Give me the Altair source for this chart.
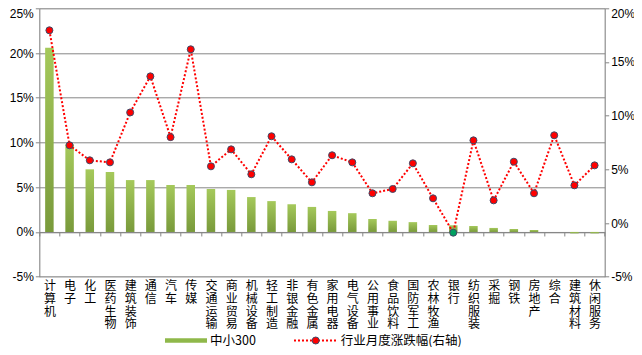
import altair as alt
import pandas as pd

categories = ["计算机", "电子", "化工", "医药生物", "建筑装饰", "通信", "汽车", "传媒",
              "交通运输", "商业贸易", "机械设备", "轻工制造", "非银金融", "有色金属",
              "家用电器", "电气设备", "公用事业", "食品饮料", "国防军工", "农林牧渔",
              "银行", "纺织服装", "采掘", "钢铁", "房地产", "综合", "建筑材料", "休闲服务"]
bar_values = [20.6, 9.8, 7.0, 6.7, 5.8, 5.8, 5.25, 5.25, 4.8, 4.7, 3.9, 3.45, 3.1, 2.8,
              2.35, 2.1, 1.45, 1.25, 1.1, 0.78, 0.75, 0.67, 0.45, 0.33, 0.22, 0.0, -0.15, -0.15]
line_values = [17.95, 7.24, 5.84, 5.65, 10.3, 13.66, 8.0, 16.18, 5.28, 6.86, 4.54, 8.08,
               5.93, 3.79, 6.31, 5.65, 2.77, 3.17, 5.56, 2.3, -0.9, 7.7, 2.11, 5.71, 2.77,
               8.17, 3.51, 5.37]
left_ticks = [-5, 0, 5, 10, 15, 20, 25]
right_ticks = [-5, 0, 5, 10, 15, 20]
bar_name = "中小300"
line_name = "行业月度涨跌幅(右轴)"

df = pd.DataFrame({"cat": categories, "bar": bar_values, "line": line_values})

W = 565.4
H = 268.4
GRAY = "#868686"
NUM_FONT = "Liberation Sans"
CJK_FONT = "Noto Sans CJK SC"

x_enc = alt.X(
    "cat:N", sort=categories, title=None,
    scale=alt.Scale(paddingInner=0, paddingOuter=0),
    axis=alt.Axis(
        offset=-(H * 5 / 30), domainColor=GRAY, tickColor=GRAY, tickSize=4,
        tickBand="extent", labelAngle=0, labelAlign="center", labelBaseline="top",
        labelPadding=44.5, labelFont=CJK_FONT, labelFontSize=12, labelLineHeight=12.8,
        labelColor="#000000", labelExpr="split(datum.label, '')",
        labelOverlap=False, labelBound=False, grid=False,
    ),
)

bars = alt.Chart(df).mark_bar(
    size=8.5,
    color=alt.Gradient(
        gradient="linear", x1=0, x2=0, y1=0, y2=1,
        stops=[alt.GradientStop(color="#a5c95b", offset=0),
               alt.GradientStop(color="#799a3b", offset=1)],
    ),
).encode(
    x=x_enc,
    y=alt.Y("bar:Q", title=None,
            scale=alt.Scale(domain=[-5, 25], nice=False, zero=False),
            axis=alt.Axis(values=left_ticks, labelExpr="datum.value + '%'",
                          grid=True, gridColor=GRAY, gridOpacity=1, domainColor=GRAY,
                          tickColor=GRAY, tickSize=4, labelPadding=2,
                          labelFont=NUM_FONT, labelFontSize=12, labelColor="#000000",
                          labelOffset={"expr": "datum.value > 24 ? 5 : 0"})),
)

right_axis = alt.Axis(orient="right", values=right_ticks,
                      labelExpr="datum.value + '%'", grid=False,
                      domainColor=GRAY, tickColor=GRAY, tickSize=4,
                      labelPadding=2, labelFont=NUM_FONT, labelFontSize=12,
                      labelColor="#000000",
                      labelOffset={"expr": "datum.value > 19 ? 5 : 0"})
right_scale = alt.Scale(domain=[-5, 20], nice=False, zero=False)

line = alt.Chart(df).mark_line(color="#ff0000", strokeWidth=2, strokeDash=[2, 2]).encode(
    x=alt.X("cat:N", sort=categories),
    y=alt.Y("line:Q", title=None, scale=right_scale, axis=right_axis))

points = alt.Chart(df).mark_point(filled=True, size=49, stroke="#3f4a68", strokeWidth=1,
                                  opacity=1).encode(
    x=alt.X("cat:N", sort=categories),
    y=alt.Y("line:Q", title=None, scale=right_scale, axis=right_axis),
    fill=alt.condition(alt.datum.cat == "银行", alt.value("#00a060"), alt.value("#ff0000")),
)

leg = pd.DataFrame({"k": [0]})
LY = 332.2
leg_bar = alt.Chart(leg).mark_rule(color="#8fb84a", strokeWidth=4.5).encode(
    x=alt.value(125.7), x2=alt.value(167.7), y=alt.value(LY))
leg_bar_t = alt.Chart(leg).mark_text(align="left", baseline="middle", font=CJK_FONT,
                                     fontSize=12.5, color="#000000").encode(
    x=alt.value(170.7), y=alt.value(LY), text=alt.value(bar_name))
leg_line = alt.Chart(leg).mark_rule(color="#ff0000", strokeWidth=2, strokeDash=[2, 2]).encode(
    x=alt.value(254.7), x2=alt.value(297.4), y=alt.value(LY))
leg_dot = alt.Chart(leg).mark_point(filled=True, size=49, fill="#ff0000", stroke="#3f4a68",
                                    strokeWidth=1, opacity=1).encode(
    x=alt.value(276.4), y=alt.value(LY))
leg_line_t = alt.Chart(leg).mark_text(align="left", baseline="middle", font=CJK_FONT,
                                      fontSize=12.5, color="#000000").encode(
    x=alt.value(301.4), y=alt.value(LY), text=alt.value(line_name))

main = alt.layer(bars, alt.layer(line, points)).resolve_scale(y="independent")

chart = alt.layer(main, leg_bar, leg_bar_t, leg_line, leg_dot, leg_line_t).properties(
    width=W, height=H,
    autosize=alt.AutoSizeParams(type="none"),
    padding={"left": 31.3, "top": 0.3, "right": 626 - 31.3 - W, "bottom": 339 - 0.3 - H},
).configure_view(stroke=None).configure(background="#ffffff")

chart.save("out.html", embed_options={"renderer": "svg", "actions": False})
